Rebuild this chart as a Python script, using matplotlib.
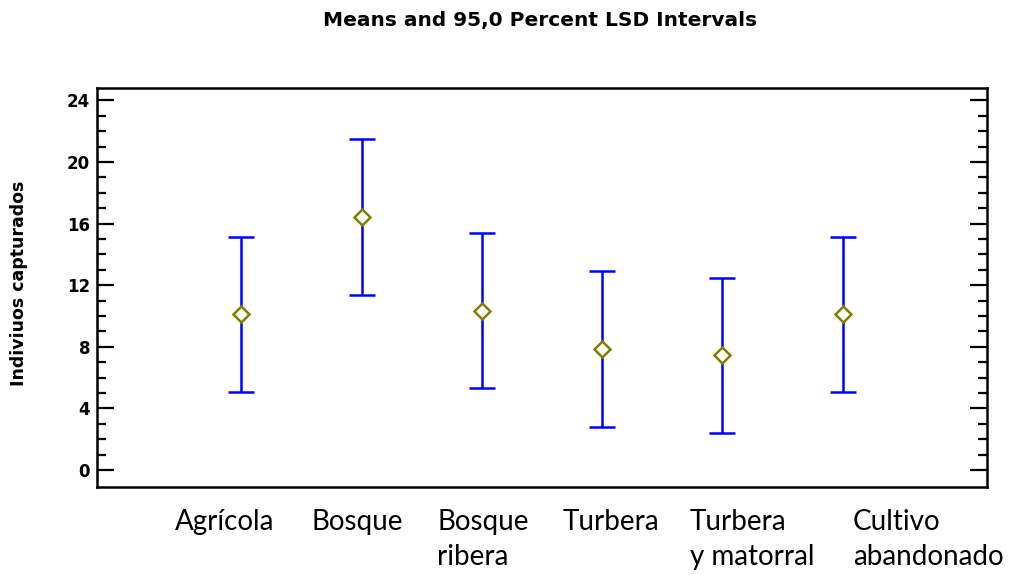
import matplotlib
matplotlib.use("Agg")
import matplotlib.pyplot as plt
import numpy as np

# datos
categorias = ["Agrícola", "Bosque", "Bosque\nribera", "Turbera",
              "Turbera\ny matorral", "Cultivo\nabandonado"]
medias = [10.1, 16.4, 10.35, 7.85, 7.45, 10.1]
semi_lsd = [5.06, 5.06, 5.04, 5.04, 5.04, 5.02]
yticks = [0, 4, 8, 12, 16, 20, 24]

fig = plt.figure(figsize=(10.18, 5.75), dpi=100)
ax = fig.add_axes([0.0953, 0.153, 0.8743, 0.694])

x = np.arange(1, len(medias) + 1)
ax.errorbar(x, medias, yerr=semi_lsd, fmt="none", ecolor="#0000ff",
            elinewidth=1.8, capsize=9.5, capthick=1.8)
ax.plot(x, medias, linestyle="none", marker="D", markersize=8.5,
        markerfacecolor="white", markeredgecolor="#808000",
        markeredgewidth=1.8)

ax.set_xlim(-0.2, 7.2)
ax.set_ylim(-1.1, 24.8)
ax.set_xticks([])
ax.set_yticks(yticks)
ax.set_yticks(np.arange(0, 25, 1), minor=True)
ax.tick_params(axis="y", which="major", direction="in", length=12,
               width=1.6, right=True, labelsize=12, pad=5)
ax.tick_params(axis="y", which="minor", direction="in", length=6.5,
               width=1.6, right=True)
for lab in ax.get_yticklabels():
    lab.set_fontweight("bold")
for s in ax.spines.values():
    s.set_linewidth(1.8)

ax.set_ylabel("Indiviuos capturados", fontsize=12.5, fontweight="bold")
ax.yaxis.set_label_coords(-0.078, 0.51)
fig.text(0.531, 0.965, "Means and 95,0 Percent LSD Intervals",
         ha="center", va="center", fontsize=14.5, fontweight="bold")

# etiquetas de categorias debajo del eje (como imagen pegada)
izq_px = [175, 311, 437, 563, 690, 853]
for xp, txt in zip(izq_px, categorias):
    fig.text(xp / 1018, 1 - 509 / 575, txt, ha="left", va="top",
             fontsize=20, family="Lato", linespacing=1.42)

fig.savefig("out.png", dpi=100)
